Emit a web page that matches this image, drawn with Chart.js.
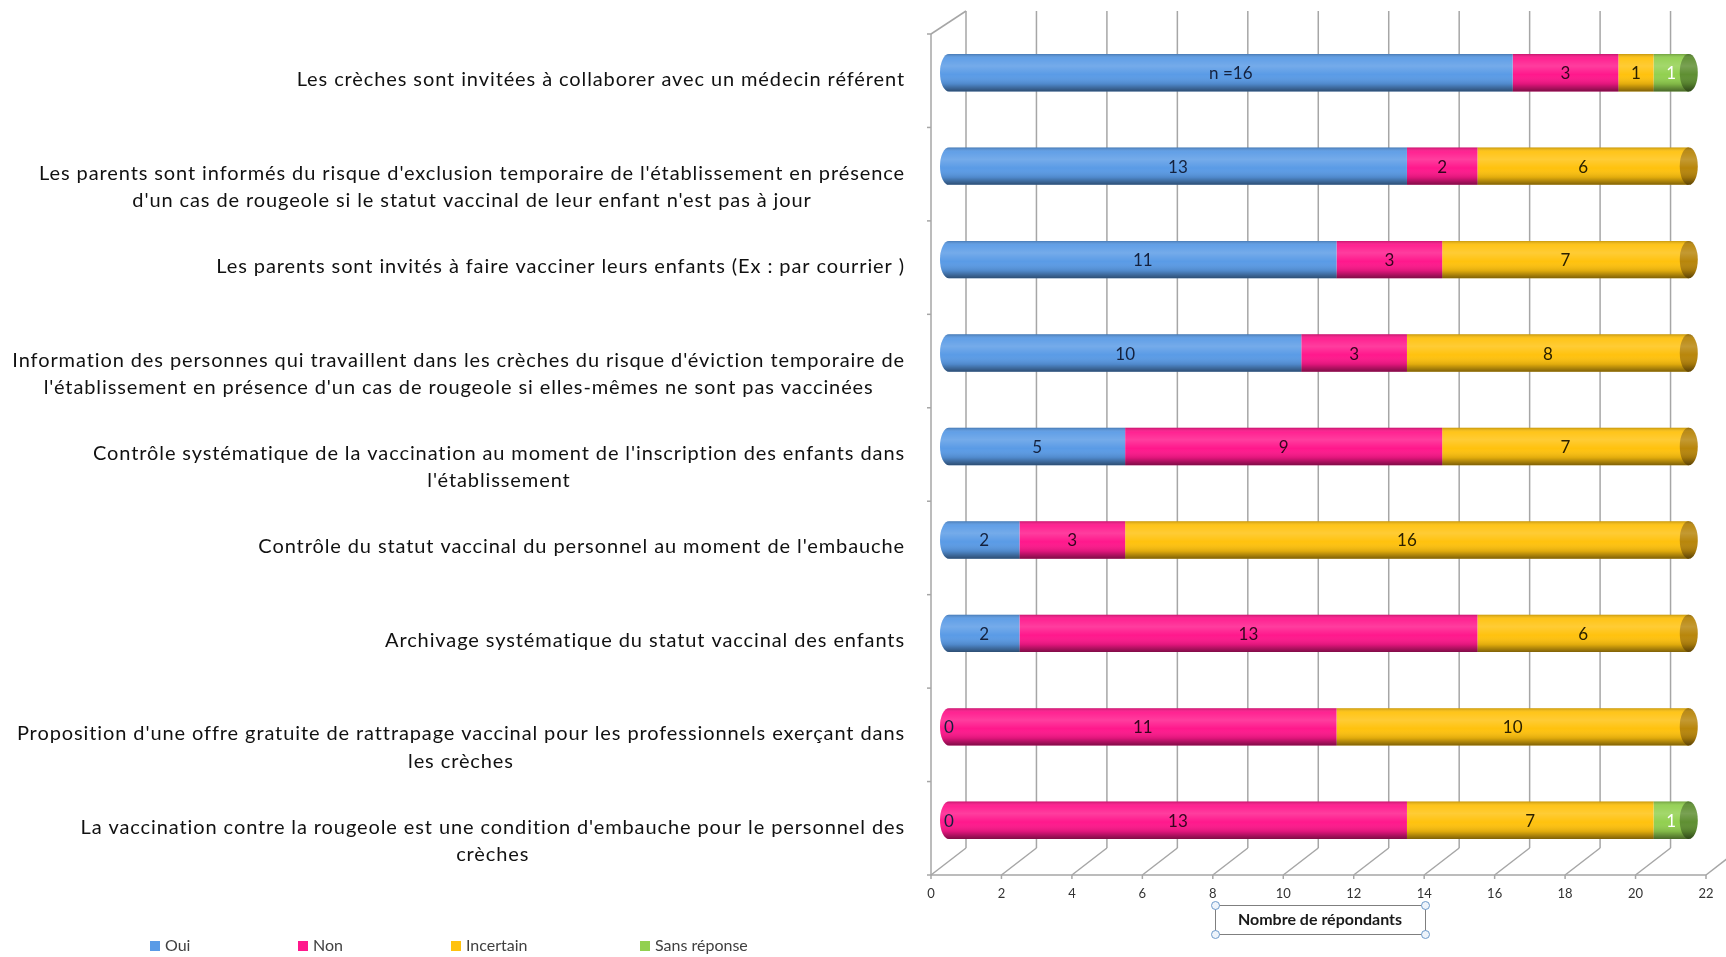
<!DOCTYPE html>
<html><head><meta charset="utf-8">
<script src="https://cdn.jsdelivr.net/npm/chart.js@4/dist/chart.umd.min.js"></script>
<style>html,body{margin:0;padding:0;background:#fff;overflow:hidden}canvas{display:block}</style>
</head><body>
<canvas id="c" width="1726" height="957"></canvas>
<script>
// ---- data ----
const categories = [
  "Les crèches sont invitées à collaborer avec un médecin référent",
  ["Les parents sont informés du risque d'exclusion temporaire de l'établissement en présence", "d'un cas de rougeole si le statut vaccinal de leur enfant n'est pas à jour"],
  "Les parents sont invités à faire vacciner leurs enfants (Ex : par courrier )",
  ["Information des personnes qui travaillent dans les crèches du risque d'éviction temporaire de", "l'établissement en présence d'un cas de rougeole si elles-mêmes ne sont pas vaccinées"],
  ["Contrôle systématique de la vaccination au moment de l'inscription des enfants dans", "l'établissement"],
  "Contrôle du statut vaccinal du personnel au moment de l'embauche",
  "Archivage systématique du statut vaccinal des enfants",
  ["Proposition d'une offre gratuite de rattrapage vaccinal pour les professionnels exerçant dans", "les crèches"],
  ["La vaccination contre la rougeole est une condition d'embauche pour le personnel des", "crèches"]
];
const seriesNames = ["Oui", "Non", "Incertain", "Sans réponse"];
const oui         = [16, 13, 11, 10, 5, 2, 2, 0, 0];
const non         = [3, 2, 3, 3, 9, 3, 13, 11, 13];
const incertain   = [1, 6, 7, 8, 7, 16, 6, 10, 7];
const sansReponse = [1, 0, 0, 0, 0, 0, 0, 0, 1];
const xTicks = [0, 2, 4, 6, 8, 10, 12, 14, 16, 18, 20, 22];
const axisTitle = "Nombre de répondants";
const firstOuiLabel = "n =16";

// ---- styles ----
const FONT = 'Lato, "Open Sans", sans-serif';
const colors   = ["#5A9BE6", "#FF188C", "#FFC20E", "#92D050"];
const capCols  = ["#33639E", "#A80E5C", "#B8860B", "#5F8F32"];
const lblCols  = ["#14213D", "#33061E", "#2A2000", "#FFFFFF"];
const FRONT_DX = -18, FRONT_DY = 8, BACK_DX = 17, BACK_DY = -19;

const seriesData = [oui, non, incertain, sansReponse];

const excel3d = {
  id: 'excel3d',
  beforeDatasetsDraw(chart) {
    const {ctx, chartArea: a, scales: {x}} = chart;
    ctx.save();
    const fy = a.bottom + FRONT_DY, by = a.bottom + BACK_DY, ty = a.top - 15;
    ctx.strokeStyle = '#A6A6A6';
    ctx.lineWidth = 1.5;
    xTicks.forEach(v => {
      const px = x.getPixelForValue(v);
      ctx.beginPath(); ctx.moveTo(px + BACK_DX, ty); ctx.lineTo(px + BACK_DX, by); ctx.stroke();
      ctx.beginPath(); ctx.moveTo(px + FRONT_DX, fy); ctx.lineTo(px + BACK_DX, by); ctx.stroke();
      ctx.beginPath(); ctx.moveTo(px + FRONT_DX, fy); ctx.lineTo(px + FRONT_DX, fy + 4); ctx.stroke();
    });
    const x0 = x.getPixelForValue(0) + FRONT_DX;
    const xE = x.getPixelForValue(xTicks[xTicks.length - 1]) + FRONT_DX;
    ctx.beginPath(); ctx.moveTo(x0, fy); ctx.lineTo(xE, fy); ctx.stroke();
    ctx.beginPath(); ctx.moveTo(x0, a.top + FRONT_DY); ctx.lineTo(x0, fy); ctx.stroke();
    ctx.beginPath(); ctx.moveTo(x0, a.top + FRONT_DY); ctx.lineTo(x0 + BACK_DX - FRONT_DX, ty); ctx.stroke();
    const band = (a.bottom - a.top) / categories.length;
    for (let k = 0; k <= categories.length; k++) {
      const yy = a.top + FRONT_DY + k * band;
      ctx.beginPath(); ctx.moveTo(x0 - 4, yy); ctx.lineTo(x0, yy); ctx.stroke();
    }
    ctx.fillStyle = '#333333';
    ctx.font = '13px ' + FONT;
    ctx.textAlign = 'center'; ctx.textBaseline = 'middle';
    xTicks.forEach(v => ctx.fillText(String(v), x.getPixelForValue(v) + FRONT_DX, fy + 19));
    ctx.restore();
  },
  afterDatasetsDraw(chart) {
    const {ctx, scales: {x}} = chart;
    ctx.save();
    const metas = seriesData.map((_, d) => chart.getDatasetMeta(d));
    for (let i = 0; i < categories.length; i++) {
      const el0 = metas[0].data[i];
      const yc = el0.y, h = el0.height, top = yc - h / 2, rx = 9;
      const x0 = x.getPixelForValue(0);
      let first = -1, last = -1, xEnd = x0;
      seriesData.forEach((s, d) => {
        if (s[i] > 0) { if (first < 0) first = d; last = d; xEnd = Math.max(xEnd, metas[d].data[i].x); }
      });
      const grad = ctx.createLinearGradient(0, top, 0, top + h);
      grad.addColorStop(0, 'rgba(0,0,0,0.22)');
      grad.addColorStop(0.12, 'rgba(255,255,255,0.05)');
      grad.addColorStop(0.32, 'rgba(255,255,255,0.16)');
      grad.addColorStop(0.55, 'rgba(255,255,255,0)');
      grad.addColorStop(0.8, 'rgba(0,0,0,0.12)');
      grad.addColorStop(1, 'rgba(0,0,0,0.5)');
      ctx.beginPath(); ctx.ellipse(x0, yc, rx, h / 2, 0, Math.PI / 2, Math.PI * 1.5); ctx.closePath();
      ctx.fillStyle = colors[first]; ctx.fill();
      ctx.beginPath(); ctx.ellipse(x0, yc, rx, h / 2, 0, Math.PI / 2, Math.PI * 1.5);
      ctx.lineTo(xEnd, top); ctx.lineTo(xEnd, top + h); ctx.closePath();
      ctx.fillStyle = grad; ctx.fill();
      ctx.beginPath(); ctx.ellipse(xEnd, yc, rx, h / 2, 0, 0, Math.PI * 2);
      ctx.fillStyle = capCols[last]; ctx.fill();
      ctx.fillStyle = grad; ctx.fill();
      ctx.font = '17px ' + FONT;
      ctx.textAlign = 'center'; ctx.textBaseline = 'middle';
      seriesData.forEach((s, d) => {
        const el = metas[d].data[i];
        const v = s[i];
        if (v > 0) {
          ctx.fillStyle = lblCols[d];
          const txt = (d === 0 && i === 0) ? firstOuiLabel : String(v);
          ctx.fillText(txt, (el.x + el.base) / 2, yc + 1);
        } else if (d === 0) {
          ctx.fillStyle = lblCols[0];
          ctx.fillText('0', el.base, yc + 1);
        }
      });
    }
    ctx.restore();
  },
  afterDraw(chart) {
    const {ctx, scales: {y}} = chart;
    ctx.save();
    ctx.font = '20px ' + FONT;
    if ('letterSpacing' in ctx) ctx.letterSpacing = '0.9px';
    ctx.fillStyle = '#111111';
    ctx.textAlign = 'center'; ctx.textBaseline = 'middle';
    const RIGHT = 905;
    categories.forEach((c, i) => {
      const lines = Array.isArray(c) ? c : [c];
      const w = Math.max(...lines.map(l => ctx.measureText(l).width));
      const cx = RIGHT - w / 2;
      const y0 = y.getPixelForValue(i) + 7;
      lines.forEach((l, j) => ctx.fillText(l, cx, y0 + j * 27.5));
    });
    if ('letterSpacing' in ctx) ctx.letterSpacing = '0px';
    const legX = [150, 298, 451, 640];
    ctx.font = '16px ' + FONT;
    ctx.textAlign = 'left';
    seriesNames.forEach((n, d) => {
      ctx.fillStyle = colors[d];
      ctx.fillRect(legX[d], 941, 10, 10);
      ctx.fillStyle = '#404040';
      ctx.fillText(n, legX[d] + 15, 946);
    });
    ctx.strokeStyle = '#7F7F7F'; ctx.lineWidth = 1;
    ctx.strokeRect(1215.5, 905.5, 210, 29);
    ctx.fillStyle = '#1A1A1A';
    ctx.font = 'bold 16px ' + FONT;
    ctx.textAlign = 'center';
    ctx.fillText(axisTitle, 1320, 920);
    [[1215.5, 905.5], [1425.5, 905.5], [1215.5, 934.5], [1425.5, 934.5]].forEach(([hx, hy]) => {
      ctx.beginPath(); ctx.arc(hx, hy, 4, 0, Math.PI * 2);
      ctx.fillStyle = '#EEF4FB'; ctx.fill();
      ctx.strokeStyle = '#6F9BCB'; ctx.stroke();
    });
    ctx.restore();
  }
};

new Chart(document.getElementById('c'), {
  type: 'bar',
  data: {
    labels: categories,
    datasets: seriesData.map((s, d) => ({
      label: seriesNames[d],
      data: s,
      backgroundColor: colors[d],
      borderWidth: 0,
      categoryPercentage: 0.4,
      barPercentage: 1
    }))
  },
  options: {
    indexAxis: 'y',
    responsive: false,
    animation: false,
    events: [],
    layout: { padding: { left: 949, right: 2, top: 26, bottom: 90 } },
    scales: {
      x: { stacked: true, min: 0, max: 22, display: false },
      y: { stacked: true, display: false }
    },
    plugins: { legend: { display: false }, tooltip: { enabled: false } }
  },
  plugins: [excel3d]
});
</script>
</body></html>
